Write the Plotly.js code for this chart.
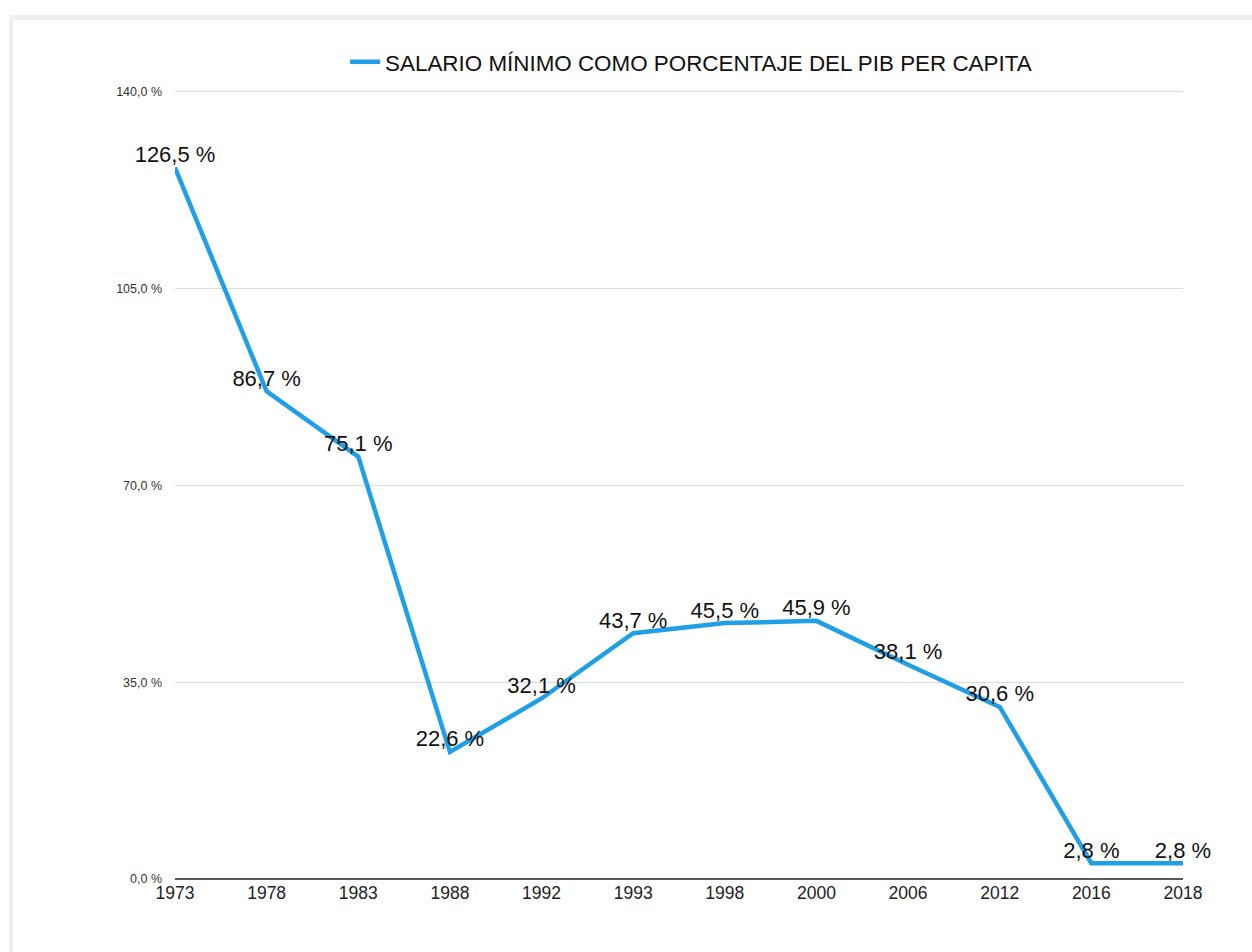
<!DOCTYPE html>
<html>
<head>
<meta charset="utf-8">
<script src="https://cdn.plot.ly/plotly-3.0.1.min.js"></script>
<style>
  html, body { margin: 0; padding: 0; background: #ffffff; }
  #frame { position: absolute; left: 0; top: 0; width: 1252px; height: 952px; overflow: hidden; }
  #card { position: absolute; left: 9px; top: 15px; width: 1260px; height: 960px;
          border-top: 5px solid #eef0ef; border-left: 4px solid #eef0ef; box-sizing: border-box; }
  #chart { position: absolute; left: 0; top: 0; width: 1252px; height: 952px; }
</style>
</head>
<body>
<div id="frame">
  <div id="card"></div>
  <div id="chart"></div>
</div>
<script>
const years = ["1973","1978","1983","1988","1992","1993","1998","2000","2006","2012","2016","2018"];
const values = [126.5, 86.7, 75.1, 22.6, 32.1, 43.7, 45.5, 45.9, 38.1, 30.6, 2.8, 2.8];
const seriesName = "SALARIO MÍNIMO COMO PORCENTAJE DEL PIB PER CAPITA";
const yTickVals = [0, 35, 70, 105, 140];
const yTickText = ["0,0 %", "35,0 %", "70,0 %", "105,0 %", "140,0 %"];

const labels = values.map(v => v.toFixed(1).replace(".", ",") + " %");

const trace = {
  x: years,
  y: values,
  type: "scatter",
  mode: "lines+text",
  name: seriesName,
  text: labels,
  textposition: "top center",
  textfont: { family: "Liberation Sans, Arial, sans-serif", size: 22, color: "#111111" },
  line: { color: "#1f9fe6", width: 4.5 },
  cliponaxis: false,
  hoverinfo: "skip"
};

const layout = {
  width: 1252,
  height: 952,
  paper_bgcolor: "rgba(0,0,0,0)",
  plot_bgcolor: "rgba(0,0,0,0)",
  margin: { l: 175, r: 69, t: 86, b: 73 },
  font: { family: "Liberation Sans, Arial, sans-serif", color: "#222222" },
  showlegend: true,
  legend: {
    orientation: "h",
    x: 0.512, xanchor: "center",
    y: 1.03, yanchor: "middle",
    font: { size: 22.4, color: "#111111" },
    itemwidth: 30
  },
  xaxis: {
    type: "category",
    range: [0, 11],
    showgrid: false,
    zeroline: false,
    showline: false,
    ticks: "",
    tickfont: { size: 17.5, color: "#222222" },
    ticklabelstandoff: 1
  },
  yaxis: {
    range: [0, 141],
    tickvals: yTickVals,
    ticktext: yTickText,
    showgrid: true,
    gridcolor: "#dcdcdc",
    gridwidth: 1,
    zeroline: true,
    zerolinecolor: "#5a5a5a",
    zerolinewidth: 2,
    showline: false,
    ticks: "",
    tickfont: { size: 12.5, color: "#333333" },
    ticklabelstandoff: 12
  }
};

Plotly.newPlot("chart", [trace], layout, { displayModeBar: false, staticPlot: true });
</script>
</body>
</html>
